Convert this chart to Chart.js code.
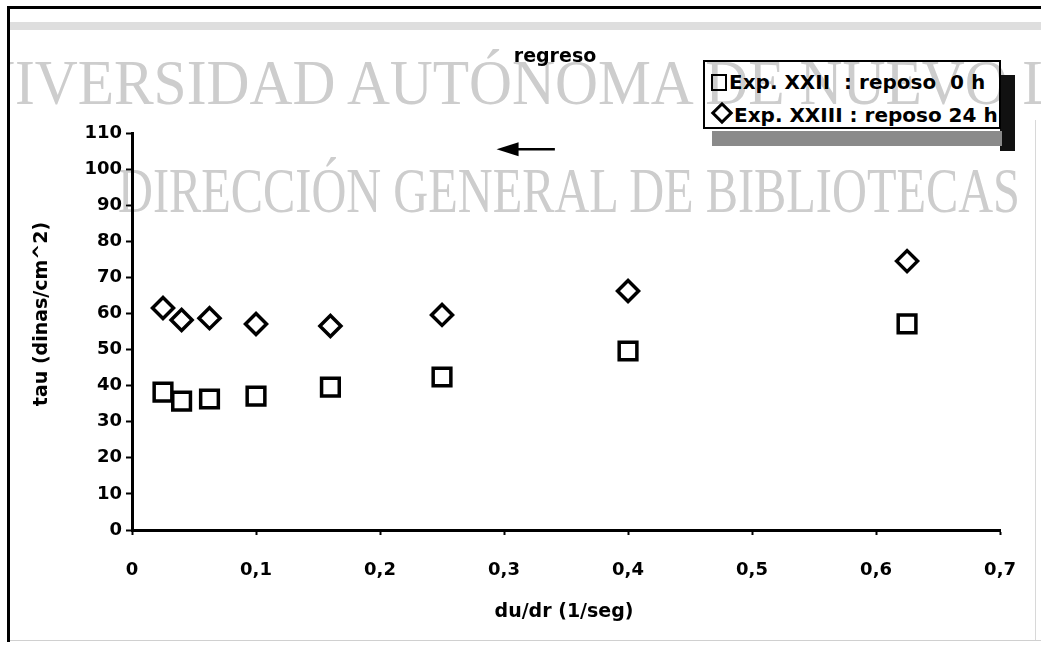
<!DOCTYPE html>
<html><head><meta charset="utf-8">
<script src="https://cdn.jsdelivr.net/npm/chart.js@4.4.0/dist/chart.umd.min.js"></script>
<style>
html,body{margin:0;padding:0;background:#fff;}
#wrap{position:relative;width:1041px;height:645px;overflow:hidden;background:#fff;}
#c{position:absolute;left:0;top:0;}
.fr{position:absolute;}
#legend{position:absolute;left:703px;top:60px;width:294px;height:65px;border:2.5px solid #000;background:#fff;
  font:bold 20px "DejaVu Sans";color:#000;}
.row{position:absolute;left:6px;height:24px;line-height:24px;white-space:pre;}
.sq{display:inline-block;width:12px;height:13px;border:2.5px solid #000;vertical-align:-2px;margin-right:2px;}
.di{display:inline-block;width:10px;height:10px;border:3px solid #000;transform:rotate(45deg);vertical-align:1px;margin:0 4px 0 3px;}
#wm{position:absolute;left:0;top:0;mix-blend-mode:darken;pointer-events:none;}
</style></head><body>
<div id="wrap">
  <div class="fr" style="left:7px;top:6px;width:1034px;height:3px;background:#000"></div>
  <div class="fr" style="left:10px;top:22px;width:1031px;height:8px;background:#dedede"></div>
  <div class="fr" style="left:1035px;top:120px;width:1px;height:520px;background:#d8d8d8"></div>
  <div class="fr" style="left:10px;top:640px;width:1031px;height:1px;background:#d0d0d0"></div>
  <div class="fr" style="left:1000px;top:75px;width:15px;height:76px;background:#111"></div>
  <div class="fr" style="left:712px;top:131px;width:290px;height:15px;background:#8a8a8a"></div>
  <canvas id="c" width="1041" height="645"></canvas>
  <div id="legend">
    <div class="row" style="top:8px"><span class="sq"></span>Exp. XXII  : reposo  0 h</div>
    <div class="row" style="top:41px"><span class="di"></span>Exp. XXIII : reposo 24 h</div>
  </div>
  <svg id="wm" width="1041" height="645" xmlns="http://www.w3.org/2000/svg">
    <text x="-71" y="104" font-family="Liberation Serif" font-size="63" fill="#cdcdcd" textLength="1252" lengthAdjust="spacingAndGlyphs">UNIVERSIDAD AUTÓNOMA DE NUEVO LEÓN</text>
    <text x="118" y="212" font-family="Liberation Serif" font-size="63" fill="#cdcdcd" textLength="902" lengthAdjust="spacingAndGlyphs">DIRECCIÓN GENERAL DE BIBLIOTECAS</text>
  </svg>
  <div class="fr" style="left:0;top:0;width:7px;height:645px;background:#fff"></div>
  <div class="fr" style="left:7px;top:6px;width:3px;height:636px;background:#000"></div>
</div>
<script>
// ---- data ----
const shearRates = [0.025, 0.04, 0.0625, 0.1, 0.16, 0.25, 0.4, 0.625];
const tauExpXXII = [38.2, 35.7, 36.3, 37.1, 39.6, 42.4, 49.6, 57.1];
const tauExpXXIII = [61.5, 58.2, 58.7, 57.1, 56.5, 59.6, 66.2, 74.5];
const seriesLabels = ['Exp. XXII : reposo 0 h', 'Exp. XXIII : reposo 24 h'];
const chartTitle = 'regreso';
const xTitle = 'du/dr (1/seg)';
const yTitle = 'tau (dinas/cm^2)';
const xTicks = [0, 0.1, 0.2, 0.3, 0.4, 0.5, 0.6, 0.7];
const yTicks = [0, 10, 20, 30, 40, 50, 60, 70, 80, 90, 100, 110];
const arrowFrom = [0.341, 105.5];
const arrowTo = [0.294, 105.5];

const toPts = (xs, ys) => xs.map((v, i) => ({x: v, y: ys[i]}));
const fmt = v => String(Number(v.toFixed(1))).replace('.', ',');

const annot = {
  id: 'annot',
  afterDraw(chart) {
    const {ctx, chartArea: a, scales: {x, y}} = chart;
    ctx.save();
    ctx.fillStyle = '#000';
    ctx.textAlign = 'center';
    ctx.textBaseline = 'middle';
    ctx.font = 'bold 19px "DejaVu Sans"';
    ctx.fillText(chartTitle, 555, 57);
    ctx.fillText(xTitle, (a.left + a.right) / 2 - 2, 612);
    ctx.save();
    ctx.translate(42, 314);
    ctx.rotate(-Math.PI / 2);
    ctx.fillText(yTitle, 0, 0);
    ctx.restore();
    // arrow
    const x0 = x.getPixelForValue(arrowFrom[0]), y0 = y.getPixelForValue(arrowFrom[1]);
    const x1 = x.getPixelForValue(arrowTo[0]), y1 = y.getPixelForValue(arrowTo[1]);
    ctx.strokeStyle = '#000';
    ctx.lineWidth = 2.5;
    ctx.beginPath();
    ctx.moveTo(x0, y0);
    ctx.lineTo(x1 + 18, y1);
    ctx.stroke();
    ctx.beginPath();
    ctx.moveTo(x1, y1);
    ctx.lineTo(x1 + 22, y1 - 7);
    ctx.lineTo(x1 + 22, y1 + 7);
    ctx.closePath();
    ctx.fill();
    ctx.restore();
  }
};

new Chart(document.getElementById('c'), {
  type: 'scatter',
  data: {
    datasets: [
      {label: seriesLabels[0], data: toPts(shearRates, tauExpXXII), pointStyle: 'rect', pointRadius: 12.5,
       pointBorderWidth: 3.5, pointBorderColor: '#000', pointBackgroundColor: 'rgba(255,255,255,0)'},
      {label: seriesLabels[1], data: toPts(shearRates, tauExpXXIII), pointStyle: 'rectRot', pointRadius: 10.5,
       pointBorderWidth: 3.5, pointBorderColor: '#000', pointBackgroundColor: 'rgba(255,255,255,0)'}
    ]
  },
  options: {
    responsive: false,
    animation: false,
    devicePixelRatio: 1,
    layout: {padding: {left: 0, right: 39, top: 133, bottom: 0}},
    plugins: {legend: {display: false}, tooltip: {enabled: false}, title: {display: false}},
    scales: {
      x: {
        type: 'linear', min: 0, max: 0.7,
        afterFit: s => { s.height = 115; },
        afterBuildTicks: s => { s.ticks = xTicks.map(v => ({value: v})); },
        border: {display: true, color: '#000', width: 3},
        grid: {display: true, drawOnChartArea: false, drawTicks: true, tickLength: 5, tickWidth: 2, tickColor: '#000'},
        ticks: {color: '#000', font: {family: 'DejaVu Sans', size: 18, weight: 'bold'}, padding: 25,
                maxRotation: 0, callback: v => fmt(v)}
      },
      y: {
        type: 'linear', min: 0, max: 110,
        afterFit: s => { s.width = 132; },
        afterBuildTicks: s => { s.ticks = yTicks.map(v => ({value: v})); },
        border: {display: true, color: '#000', width: 3},
        grid: {display: true, drawOnChartArea: false, drawTicks: true, tickLength: 6, tickWidth: 2, tickColor: '#000'},
        ticks: {color: '#000', font: {family: 'DejaVu Sans', size: 18, weight: 'bold'}, padding: 4,
                callback: v => String(v)}
      }
    }
  },
  plugins: [annot]
});
</script>
</body></html>
